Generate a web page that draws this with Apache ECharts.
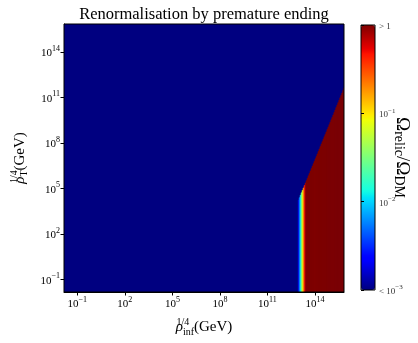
<!DOCTYPE html>
<html>
<head>
<meta charset="utf-8">
<script src="https://cdn.jsdelivr.net/npm/echarts@6/dist/echarts.min.js"></script>
<style>
  html, body { margin: 0; padding: 0; background: #fff; }
  #chart { width: 418px; height: 343px; }
</style>
</head>
<body>
<div id="chart"></div>
<script>
// log10 of rho_inf^(1/4) and rho_T^(1/4) (GeV) shown on the axes
var rhoInfRange = [-1.84, 15.83]
var rhoTRange = [-1.84, 15.83]
var tickExponents = [-1, 2, 5, 8, 11, 14]
var colorbarTicks = [-3, -2, -1, 0]

// columns of the field near rho_inf ~ 1e13 GeV (grid start / step in log10 GeV)
var colStart = 12.875
var colStep = 0.0625
// log10(Omega_relic / Omega_DM) per column, clipped to [-3, 0]
var omegaCols = [
  -3, -2.75, -2.3, -1.95, -1.55, -1.15, -0.8, -0.4, -0.1,
  0, 0, 0, 0, 0, 0, 0, 0, 0, 0,
  0, 0, 0, 0, 0, 0, 0, 0, 0, 0,
  0, 0, 0, 0, 0, 0, 0, 0, 0, 0,
  0, 0, 0, 0, 0, 0, 0, 0, 0
]
// upper edge of each column, log10 rho_T^(1/4)
var topCols = [
  4.06, 4.22, 4.38, 4.54, 4.70, 4.86, 5.02, 5.18, 5.34, 5.50,
  5.66, 5.82, 5.98, 6.14, 6.30, 6.46, 6.62, 6.78, 6.94, 7.10,
  7.26, 7.42, 7.59, 7.75, 7.91, 8.07, 8.23, 8.39, 8.55, 8.71,
  8.87, 9.03, 9.19, 9.35, 9.51, 9.67, 9.83, 9.99, 10.16, 10.32,
  10.48, 10.64, 10.80, 10.96, 11.12, 11.28, 11.44, 11.60
]
// everything else sits below the colour floor (< 1e-3)
var floorValue = -3

// matplotlib "jet"
function jet (t) {
  function seg (pts) {
    for (var i = 1; i < pts.length; i++) {
      if (t <= pts[i][0]) {
        var a = pts[i - 1], b = pts[i]
        return a[1] + (b[1] - a[1]) * (t - a[0]) / (b[0] - a[0])
      }
    }
    return pts[pts.length - 1][1]
  }
  var r = seg([[0, 0], [0.35, 0], [0.66, 1], [0.89, 1], [1, 0.5]])
  var g = seg([[0, 0], [0.125, 0], [0.375, 1], [0.64, 1], [0.91, 0], [1, 0]])
  var b = seg([[0, 0.5], [0.11, 1], [0.34, 1], [0.65, 0], [1, 0]])
  return 'rgb(' + Math.round(r * 255) + ',' + Math.round(g * 255) + ',' + Math.round(b * 255) + ')'
}
var jetColors = []
for (var k = 0; k <= 100; k++) jetColors.push(jet(k / 100))

var cells = [[rhoInfRange[0], rhoInfRange[1], rhoTRange[1], floorValue]]
for (var i = 0; i < omegaCols.length; i++) {
  var x0 = colStart + i * colStep
  cells.push([x0, x0 + colStep, topCols[i], omegaCols[i]])
}

function pow10 (v) {
  return '{b|10}{e|' + (v < 0 ? '\u2212' + (-v) : v) + '}'
}

var serif = 'Liberation Serif'
var tickRich = {
  b: { fontSize: 11, fontFamily: serif, color: '#000', verticalAlign: 'bottom', lineHeight: 14 },
  e: { fontSize: 8, fontFamily: serif, color: '#000', verticalAlign: 'top', lineHeight: 14 }
}
var cbRich = {
  b: { fontSize: 9, fontFamily: serif, color: '#333', verticalAlign: 'bottom', lineHeight: 12 },
  e: { fontSize: 7, fontFamily: serif, color: '#333', verticalAlign: 'top', lineHeight: 12 }
}
var nameRich = {
  r: { fontSize: 15, fontFamily: serif, fontStyle: 'italic', color: '#000', verticalAlign: 'middle', lineHeight: 20 },
  sup: { fontSize: 10, fontFamily: serif, color: '#000', verticalAlign: 'top', lineHeight: 20, width: 0 },
  sub: { fontSize: 10, fontFamily: serif, color: '#000', verticalAlign: 'bottom', lineHeight: 20 },
  t: { fontSize: 15, fontFamily: serif, color: '#000', verticalAlign: 'middle', lineHeight: 20 }
}
var cbNameRich = {
  o: { fontSize: 19, fontFamily: serif, color: '#000', verticalAlign: 'middle', lineHeight: 20 },
  s: { fontSize: 14, fontFamily: serif, color: '#000', verticalAlign: 'bottom', lineHeight: 20 }
}

var chart = echarts.init(document.getElementById('chart'))
chart.setOption({
  animation: false,
  title: {
    text: 'Renormalisation by premature ending',
    left: 199,
    top: 1,
    textAlign: 'center',
    textStyle: { fontFamily: serif, fontSize: 16.5, fontWeight: 'normal', color: '#000' }
  },
  grid: [
    { left: 64, top: 24, width: 280, height: 268, show: true, borderColor: '#000', borderWidth: 1, z: 10 },
    { left: 361, top: 25, width: 14, height: 265, show: true, borderColor: '#000', borderWidth: 1, z: 10 }
  ],
  xAxis: [
    {
      gridIndex: 0,
      type: 'value',
      min: rhoInfRange[0],
      max: rhoInfRange[1],
      axisLine: { show: true, onZero: false, lineStyle: { color: '#000' } },
      axisTick: { show: true, customValues: tickExponents, length: 3.5, lineStyle: { color: '#000' } },
      axisLabel: { customValues: tickExponents, margin: 4, formatter: pow10, rich: tickRich },
      splitLine: { show: false },
      name: '{r|\u03c1}{sup|1/4}{sub|inf}{t|(GeV)}',
      nameLocation: 'middle',
      nameGap: 25,
      nameTextStyle: { rich: nameRich }
    },
    { gridIndex: 1, type: 'value', min: 0, max: 1, show: false }
  ],
  yAxis: [
    {
      gridIndex: 0,
      type: 'value',
      min: rhoTRange[0],
      max: rhoTRange[1],
      axisLine: { show: true, onZero: false, lineStyle: { color: '#000' } },
      axisTick: { show: true, customValues: tickExponents, length: 3.5, lineStyle: { color: '#000' } },
      axisLabel: { customValues: tickExponents, margin: 4, formatter: pow10, rich: tickRich },
      splitLine: { show: false },
      name: '{r|\u03c1}{sup|1/4}{sub|T}{t|(GeV)}',
      nameLocation: 'middle',
      nameRotate: 90,
      nameGap: 31,
      nameTextStyle: { rich: nameRich }
    },
    {
      gridIndex: 1,
      type: 'value',
      position: 'right',
      min: -3,
      max: 0,
      z: 20,
      axisLine: { show: false },
      axisTick: { show: true, customValues: colorbarTicks, length: 3, lineStyle: { color: '#000' } },
      axisLabel: {
        customValues: colorbarTicks,
        margin: 4,
        align: 'left',
        fontSize: 9,
        fontFamily: serif,
        rich: cbRich,
        formatter: function (v) {
          if (v === 0) return '{b|> 1}'
          if (v === -3) return '{b|< 10}{e|\u22123}'
          return pow10(v)
        }
      },
      splitLine: { show: false },
      name: '{o|\u03a9}{s|relic}{o|/\u03a9}{s|DM}',
      nameLocation: 'middle',
      nameRotate: -90,
      nameGap: 17,
      nameMoveOverlap: false,
      nameTextStyle: { rich: cbNameRich }
    }
  ],
  visualMap: {
    type: 'continuous',
    min: -3,
    max: 0,
    dimension: 3,
    seriesIndex: 0,
    calculable: false,
    hoverLink: false,
    inRange: { color: jetColors },
    left: 361,
    top: 25,
    padding: 0,
    itemWidth: 14,
    itemHeight: 265,
    text: null
  },
  series: [
    {
      type: 'custom',
      xAxisIndex: 0,
      yAxisIndex: 0,
      clip: true,
      data: cells,
      renderItem: function (params, api) {
        var p0 = api.coord([api.value(0), api.value(2)])
        var p1 = api.coord([api.value(1), rhoTRange[0]])
        var c = api.visual('color')
        return {
          type: 'rect',
          shape: { x: p0[0], y: p0[1], width: p1[0] - p0[0], height: p1[1] - p0[1] },
          style: { fill: c, stroke: c, lineWidth: 0.6 }
        }
      }
    }
  ]
})
</script>
</body>
</html>
